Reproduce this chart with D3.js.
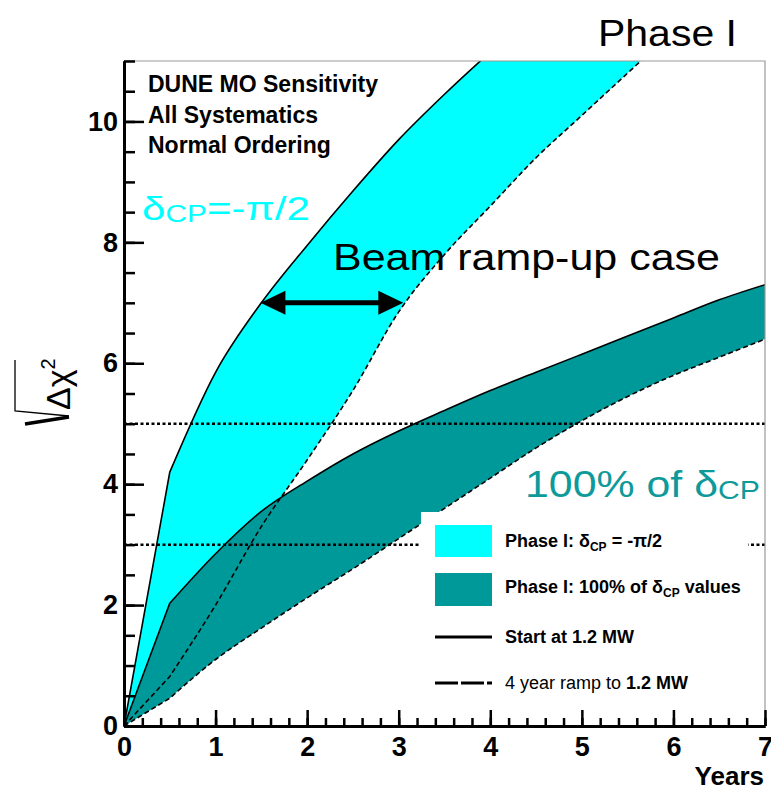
<!DOCTYPE html>
<html>
<head>
<meta charset="utf-8">
<script src="https://cdn.jsdelivr.net/npm/d3@7"></script>
<style>
  body { margin: 0; background: #fff; }
  text { font-family: "Liberation Sans", Arial, Helvetica, sans-serif; }
</style>
</head>
<body>
<svg width="771" height="790"></svg>
<script>
// years on the x axis
var years = [0, 0.5, 1, 1.5, 2, 2.5, 3, 3.5, 4, 4.5, 5, 5.5, 6, 6.5, 7];

// delta_CP = -pi/2 band (sqrt(dchi2)), leaves the frame at the top
var halfStart = [0, 4.2, 5.85, 7.0, 7.95, 8.85, 9.7, 10.45, 11.15];                    // years 0..4
var halfRamp  = [0, 0.82, 2.0, 3.3, 4.4, 5.55, 6.85, 7.8, 8.6, 9.4, 10.1, 10.8, 11.5]; // years 0..6

// 100% of delta_CP band
var allStart = [0, 2.03, 2.85, 3.55, 4.05, 4.5, 4.88, 5.22, 5.55, 5.85, 6.15, 6.45, 6.75, 7.05, 7.3];
var allRamp  = [0, 0.46, 1.1, 1.62, 2.12, 2.6, 3.1, 3.6, 4.1, 4.6, 5.05, 5.45, 5.8, 6.1, 6.4];

var xMajor = [0, 1, 2, 3, 4, 5, 6, 7];
var yMajor = [0, 2, 4, 6, 8, 10];
var sigmaLines = [3, 5];
var arrowYears = [1.49, 3.05], arrowLevel = 7;

var svg = d3.select("svg");
var x = d3.scaleLinear().domain([0, 7]).range([124, 765]),
    y = d3.scaleLinear().domain([0, 11]).range([726, 61]);

svg.append("defs").append("clipPath").attr("id", "plot")
    .append("rect").attr("x", 124).attr("y", 61).attr("width", 641).attr("height", 665);

function pts(ys) { return ys.map(function(v, i) { return [x(years[i]), y(v)]; }); }

// first half-year is a straight ramp, then a smooth curve
var mono = d3.line().curve(d3.curveMonotoneX);
function fwd(p) { return "M" + p[0] + "L" + mono(p.slice(1)).slice(1); }
function back(p) { return "L" + mono(p.slice(1).reverse()).slice(1) + "L" + p[0]; }

var hS = pts(halfStart), hR = pts(halfRamp), aS = pts(allStart), aR = pts(allRamp);

var plot = svg.append("g").attr("clip-path", "url(#plot)");

plot.append("path").attr("d", fwd(hS) + back(hR) + "Z").attr("fill", "#00ffff");
plot.append("path").attr("d", fwd(aS) + back(aR) + "Z").attr("fill", "#009999");

[[hS, null], [hR, "5,3"], [aS, null], [aR, "5,3"]].forEach(function(c) {
  plot.append("path").attr("d", fwd(c[0]))
      .attr("fill", "none").attr("stroke", "#000").attr("stroke-width", 1.6)
      .attr("stroke-dasharray", c[1]);
});

// 3 and 5 sigma lines
plot.selectAll(".sig").data(sigmaLines).enter().append("line")
    .attr("x1", x(0)).attr("x2", x(7))
    .attr("y1", function(d) { return y(d); }).attr("y2", function(d) { return y(d); })
    .attr("stroke", "#000").attr("stroke-width", 2.5).attr("stroke-dasharray", "3,2.5");

// frame
svg.append("path").attr("d", "M124,61H765V726").attr("fill", "none")
    .attr("stroke", "#999").attr("stroke-width", 1.2);

// axes
function styleAxis(g) {
  g.select(".domain").attr("stroke-width", 3);
  g.selectAll(".tick line").attr("stroke-width", 2.5);
  g.selectAll("text").attr("font-family", "Liberation Sans, Arial, sans-serif")
      .attr("font-weight", "bold").attr("font-size", 27);
}
svg.append("g").attr("transform", "translate(124,0)")
    .call(d3.axisLeft(y).tickValues(d3.range(0, 11.01, 0.5)).tickSize(-11).tickFormat("").tickSizeOuter(0))
    .call(styleAxis);
svg.append("g").attr("transform", "translate(124,0)")
    .call(d3.axisLeft(y).tickValues(yMajor).tickSize(-20).tickPadding(6).tickFormat(d3.format("d")).tickSizeOuter(0))
    .call(styleAxis);
svg.append("g").attr("transform", "translate(0,726)")
    .call(d3.axisBottom(x).tickValues(d3.range(0, 7.01, 0.2)).tickSize(-8).tickFormat("").tickSizeOuter(0))
    .call(styleAxis);
svg.append("g").attr("transform", "translate(0,726)")
    .call(d3.axisBottom(x).tickValues(xMajor).tickSize(-16).tickPadding(11).tickFormat(d3.format("d")).tickSizeOuter(0))
    .call(styleAxis);

svg.append("text").attr("x", 764).attr("y", 785).attr("text-anchor", "end")
    .attr("font-weight", "bold").attr("font-size", 26).text("Years");

// y title: sqrt(Delta chi^2)
var yt = svg.append("g");
yt.append("path").attr("d", "M25,424L69,417").attr("stroke", "#000").attr("stroke-width", 3.5);
yt.append("path").attr("d", "M69,416L15,411V360").attr("fill", "none").attr("stroke", "#000").attr("stroke-width", 1.3);
var ytx = yt.append("text").attr("transform", "translate(70,410) rotate(-90)").attr("font-size", 34);
ytx.append("tspan").text("Δχ");
ytx.append("tspan").attr("font-size", 20).attr("dy", -15).text("2");

// header
[["DUNE MO Sensitivity", 92], ["All Systematics", 123], ["Normal Ordering", 153]].forEach(function(t) {
  svg.append("text").attr("x", 148).attr("y", t[1]).attr("font-weight", "bold")
      .attr("font-size", 23).text(t[0]);
});

// legend
var lg = svg.append("g");
lg.append("rect").attr("x", 421).attr("y", 512).attr("width", 327).attr("height", 195).attr("fill", "#fff");
lg.append("rect").attr("x", 435).attr("y", 525).attr("width", 57).attr("height", 32).attr("fill", "#00ffff");
lg.append("rect").attr("x", 435).attr("y", 573).attr("width", 57).attr("height", 33).attr("fill", "#009999");
lg.append("line").attr("x1", 435).attr("x2", 492).attr("y1", 637).attr("y2", 637)
    .attr("stroke", "#000").attr("stroke-width", 3);
lg.append("line").attr("x1", 435).attr("x2", 492).attr("y1", 683).attr("y2", 683)
    .attr("stroke", "#000").attr("stroke-width", 3).attr("stroke-dasharray", "23,3");
function legText(yy) {
  return lg.append("text").attr("x", 505).attr("y", yy).attr("font-weight", "bold").attr("font-size", 18);
}
var l1 = legText(547);
l1.append("tspan").text("Phase I: δ");
l1.append("tspan").attr("font-size", 12).attr("dy", 4).text("CP");
l1.append("tspan").attr("dy", -4).text(" = -π/2");
var l2 = legText(593);
l2.append("tspan").text("Phase I: 100% of δ");
l2.append("tspan").attr("font-size", 12).attr("dy", 4).text("CP");
l2.append("tspan").attr("dy", -4).text(" values");
legText(643).text("Start at 1.2 MW");
var l4 = legText(689);
l4.append("tspan").attr("font-weight", "normal").text("4 year ramp to ");
l4.append("tspan").text("1.2 MW");

// arrow
var ay = y(arrowLevel), ax0 = x(arrowYears[0]), ax1 = x(arrowYears[1]);
svg.append("line").attr("x1", ax0 + 20).attr("x2", ax1 - 20).attr("y1", ay).attr("y2", ay)
    .attr("stroke", "#000").attr("stroke-width", 5);
svg.append("path").attr("d", "M" + ax0 + "," + ay + "l25,-12v24z");
svg.append("path").attr("d", "M" + ax1 + "," + ay + "l-25,-12v24z");

// stretched annotations
function stretch(t, x0, yb, w) {
  var n = t.node().getComputedTextLength();
  t.attr("transform", "translate(" + x0 + "," + yb + ") scale(" + (w / n) + ",1)");
}
stretch(svg.append("text").attr("font-size", 36).text("Phase I"), 598, 46, 139);
stretch(svg.append("text").attr("font-size", 37).text("Beam ramp-up case"), 333, 270, 387);

var d1 = svg.append("text").attr("font-size", 34).attr("fill", "#00ffff");
d1.append("tspan").text("δ");
d1.append("tspan").attr("font-size", 24).attr("dy", 2).text("CP");
d1.append("tspan").attr("dy", -2).text("=-π/2");
stretch(d1, 142, 220, 168);

var d2 = svg.append("text").attr("font-size", 37).attr("fill", "#0e9a9a");
d2.append("tspan").text("100% of δ");
d2.append("tspan").attr("font-size", 26).attr("dy", 2).text("CP");
stretch(d2, 525, 497, 235);
</script>
</body>
</html>
